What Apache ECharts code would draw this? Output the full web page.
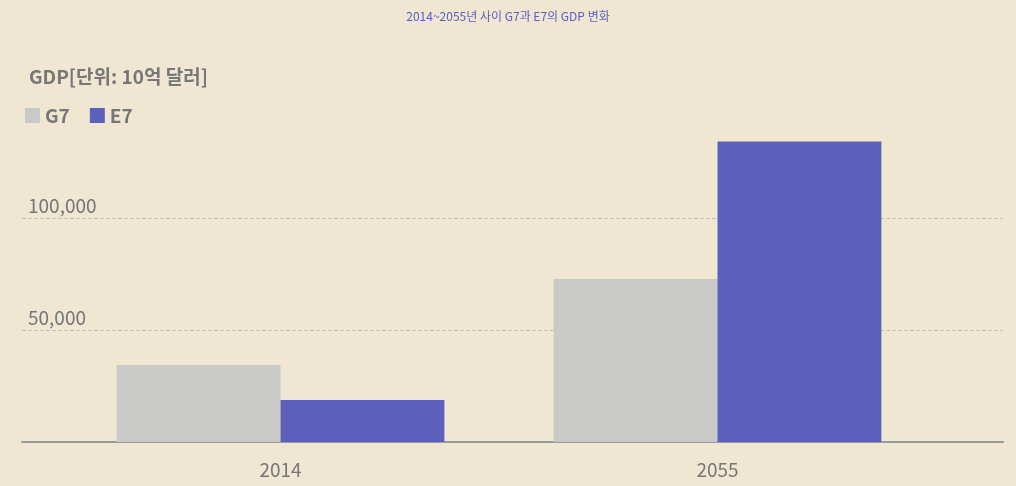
<!DOCTYPE html>
<html><head><meta charset="utf-8">
<script src="https://cdn.jsdelivr.net/npm/echarts@6/dist/echarts.min.js"></script>
<style>body{margin:0;background:#f0e7d2}#c{width:1016px;height:486px}</style>
</head><body><div id="c"></div>
<script>
var years = ["2014", "2055"];
var g7 = [34500, 73000];
var e7 = [18800, 134500];
var seriesNames = ["G7", "E7"];

var chart = echarts.init(document.getElementById("c"));
var font = "'Noto Sans CJK KR', 'Noto Sans', sans-serif";
var gl = "#c8c3b6";
chart.setOption({
	backgroundColor: "#f0e7d2",
	title: [{
		text: "2014~2055년 사이 G7과 E7의 GDP 변화",
		left: "center", top: 5,
		textStyle: {fontSize: 12, fontWeight: "normal", color: "#5b5fc0", fontFamily: font}
	}, {
		text: "GDP[단위: 10억 달러]",
		left: 24, top: 62,
		textStyle: {fontSize: 19, fontWeight: "bold", color: "#777", fontFamily: font}
	}],
	legend: {
		data: seriesNames,
		left: 20, top: 101,
		icon: "rect", itemWidth: 15, itemHeight: 15, itemGap: 20,
		textStyle: {fontSize: 19, fontWeight: "bold", color: "#777", fontFamily: font}
	},
	grid: [
		{left: 22, right: 13, top: 107, bottom: 44},
		{left: 62, right: 80, top: 107, bottom: 44}
	],
	xAxis: [{
		type: "category", data: years, gridIndex: 0,
		axisTick: {show: false},
		axisLine: {lineStyle: {color: "#999", width: 2}},
		axisLabel: {show: false}
	}, {
		type: "category", data: years, gridIndex: 1,
		axisTick: {show: false}, axisLine: {show: false},
		axisLabel: {fontSize: 19, color: "#777", margin: 18, fontFamily: font}
	}],
	yAxis: [{
		type: "value", min: 0, max: 150000, interval: 50000, gridIndex: 0,
		axisLine: {show: false}, axisTick: {show: false},
		splitLine: {lineStyle: {color: [gl, gl, gl, "rgba(0,0,0,0)"], type: "dashed"}},
		axisLabel: {
			inside: true, verticalAlign: "bottom", align: "left", margin: 6,
			padding: [0, 0, 3, 0],
			fontSize: 19, color: "#777", fontFamily: font,
			formatter: function (v) { return (v === 0 || v === 150000) ? "" : v.toLocaleString("en-US"); }
		}
	}, {
		type: "value", min: 0, max: 150000, gridIndex: 1, show: false,
		splitLine: {show: false}
	}],
	series: [{
		name: "G7", type: "bar", data: g7, barGap: "0%", barCategoryGap: "25%",
		xAxisIndex: 1, yAxisIndex: 1,
		itemStyle: {color: "#c9cac7"}
	}, {
		name: "E7", type: "bar", data: e7,
		xAxisIndex: 1, yAxisIndex: 1,
		itemStyle: {color: "#5c61bc"}
	}]
});
</script></body></html>
